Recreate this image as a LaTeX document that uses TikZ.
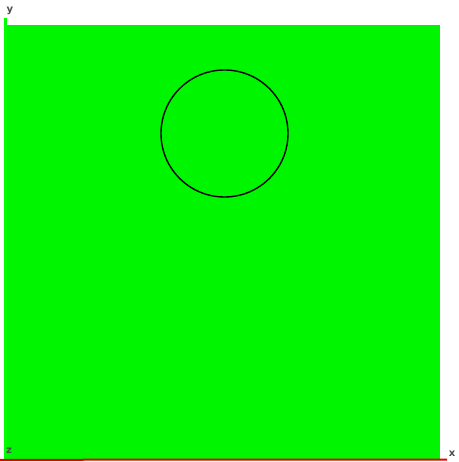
\documentclass[tikz,border=0pt]{standalone}
\usepackage{fontspec}
\setmainfont{DejaVu Sans}
\definecolor{fillgreen}{RGB}{0,245,0}
\definecolor{axgreen}{RGB}{0,255,0}
\definecolor{axred}{RGB}{230,0,0}
\tikzset{
  lbl/.style={font=\fontsize{10}{10}\selectfont\bfseries, text=black!70, inner sep=0pt},
}
\begin{document}
\begin{tikzpicture}[x=1pt,y=-1pt]
\useasboundingbox (0,0) rectangle (458,462);
\fill[white] (0,0) rectangle (458,462);
\fill[fillgreen] (6,25) rectangle (440,459);
\coordinate (ytop) at (5.5,18);
\coordinate (origin) at (5.5,459.5);
\coordinate (xend) at (447,459.5);
\draw[axgreen, line width=2.5pt] (ytop) -- (origin);
\draw[axred, line width=2pt] (0,459.8) -- (xend);
\draw[black, line width=1.4pt] (224.5,133.5) circle[radius=63.5];
\node[lbl] (ylab) at (10,11) {y};
\node[lbl] (zlab) at (9,451) {z};
\node[lbl] (xlab) at (452,454) {x};
\end{tikzpicture}
\end{document}
